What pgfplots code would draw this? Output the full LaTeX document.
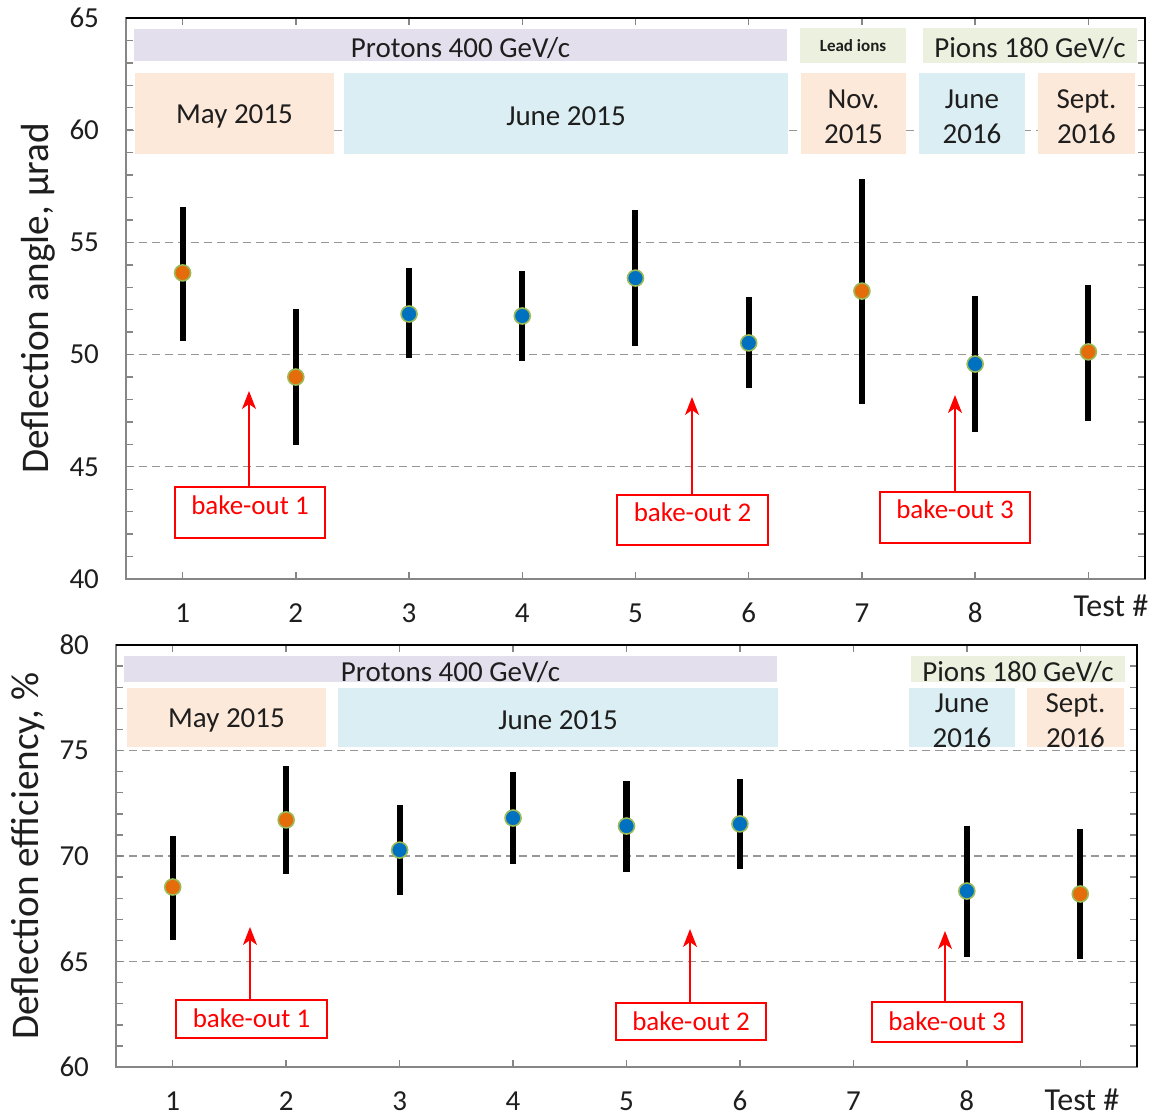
\documentclass[border=0pt]{standalone}
\usepackage{fontspec}
\setmainfont{Carlito}
\usepackage{pgfplots}
\pgfplotsset{compat=1.18}
\usetikzlibrary{arrows.meta}
\definecolor{lav}{RGB}{228,223,236}
\definecolor{grn}{RGB}{235,241,222}
\definecolor{pch}{RGB}{253,233,217}
\definecolor{lbl}{RGB}{218,238,243}
\definecolor{orng}{RGB}{228,108,10}
\definecolor{blu}{RGB}{0,112,192}
\definecolor{ol}{RGB}{155,187,89}
\definecolor{gridc}{RGB}{150,150,150}
\definecolor{axc}{RGB}{134,134,134}
\definecolor{txt}{RGB}{30,30,30}

\pgfplotsset{
 common/.style={scale only axis, xmin=0.5, xmax=9.5, xtick={1,...,9},
  xticklabels={1,2,3,4,5,6,7,8,{}},
  tick align=inside, major tick length=3.5pt, minor tick length=3.5pt,
  tick style={axc, line width=0.7pt}, axis line style={axc, line width=0.8pt},
  ymajorgrids, grid style={gridc, dash pattern=on 4pt off 2.5pt, line width=0.6pt},
  minor y tick num=4,
  ticklabel style={font=\fontsize{14.5}{17}\selectfont, text=txt},
  /pgf/number format/assume math mode=true,
  xticklabel style={anchor=center, yshift=-17pt},
  yticklabel style={anchor=east, xshift=-10pt},
  every axis y label/.style={at={(rel axis cs:0,0.5)}, xshift=-44pt, rotate=90, anchor=center,
     font=\fontsize{19.6}{22}\selectfont, text=txt},
  clip=false,
 },
 ebar/.style={only marks, mark=none, error bars/.cd, y dir=both, y explicit, error mark=none,
   error bar style={line width=3pt, black}},
 omark/.style={only marks, mark=*, mark size=4pt, mark options={fill=orng, draw=ol, line width=0.8pt}},
 bmark/.style={only marks, mark=*, mark size=4pt, mark options={fill=blu, draw=ol, line width=0.8pt}},
}

\pgfplotstableread{
x y ep em
1 53.64 2.94 3.04
2 49.00 3.03 3.03
3 51.81 2.05 1.96
4 51.72 2.01 2.00
5 53.41 3.03 3.03
6 50.52 2.05 2.01
7 52.83 5.00 5.03
8 49.58 3.03 3.03
9 50.12 2.98 3.08
}\topdata
\pgfplotstableread{
x y
1 53.64
2 49.00
7 52.83
9 50.12
}\topor
\pgfplotstableread{
x y
3 51.81
4 51.72
5 53.41
6 50.52
8 49.58
}\topbl
\pgfplotstableread{
x y ep em
1 68.53 2.42 2.51
2 71.71 2.56 2.56
3 70.28 2.14 2.13
4 71.80 2.18 2.18
5 71.42 2.13 2.18
6 71.52 2.13 2.14
8 68.34 3.08 3.13
9 68.20 3.08 3.08
}\botdata
\pgfplotstableread{
x y
1 68.53
2 71.71
9 68.20
}\botor
\pgfplotstableread{
x y
3 70.28
4 71.80
5 71.42
6 71.52
8 68.34
}\botbl

\newcommand{\bx}[6]{\fill[#5] (#1,#2) rectangle (#3,#4);
  \node[align=center, text=txt, font=\fontsize{14.5}{17.5}\selectfont, yshift=-1.5pt] at ({(#1+#3)/2},{(#2+#4)/2}) {#6};}

\begin{document}
\begin{tikzpicture}
\path[use as bounding box] (0,0) rectangle (578.5pt,-559pt);

\begin{axis}[common, at={(63pt,-9pt)}, anchor=north west, width=509.5pt, height=280.5pt,
  ymin=40, ymax=65, ytick={40,45,...,65}, ylabel={Deflection angle, μrad}]
\addplot[ebar] table[x=x, y=y, y error plus=ep, y error minus=em] {\topdata};
\addplot[omark] table[x=x, y=y] {\topor};
\addplot[bmark] table[x=x, y=y] {\topbl};
\draw[black, line width=0.9pt] (rel axis cs:0,1) -- (rel axis cs:1,1) -- (rel axis cs:1,0);
\end{axis}

\begin{axis}[common, at={(58pt,-322.5pt)}, anchor=north west, width=510.5pt, height=211pt,
  ymin=60, ymax=80, ytick={60,65,...,80}, ylabel={Deflection efficiency, \%}]
\addplot[ebar] table[x=x, y=y, y error plus=ep, y error minus=em] {\botdata};
\addplot[omark] table[x=x, y=y] {\botor};
\addplot[bmark] table[x=x, y=y] {\botbl};
\draw[black, line width=0.9pt] (rel axis cs:0,1) -- (rel axis cs:1,1) -- (rel axis cs:1,0);
\end{axis}

\begin{scope}[x=0.5pt, y=-0.5pt]
% top chart boxes
\bx{134}{29}{787}{61}{lav}{Protons 400 GeV/c}
\fill[grn] (800,28) rectangle (906,63);
\node[text=txt, font=\fontsize{8.5}{10}\selectfont\bfseries] at (853,46) {Lead ions};
\bx{923}{28}{1137}{63}{grn}{Pions 180 GeV/c}
\bx{135}{73}{334}{154}{pch}{May 2015}
\bx{344}{73}{788}{154}{lbl}{June 2015}
\bx{801}{73}{906}{154}{pch}{Nov.\\2015}
\bx{919}{73}{1025}{154}{lbl}{June\\2016}
\bx{1038}{73}{1135}{154}{pch}{Sept.\\2016}
% bottom chart boxes
\bx{124}{656}{777}{682}{lav}{Protons 400 GeV/c}
\bx{911}{656}{1125}{682}{grn}{Pions 180 GeV/c}
\bx{127}{688}{326}{747}{pch}{May 2015}
\bx{338}{688}{778}{747}{lbl}{June 2015}
\bx{909}{688}{1015}{747}{lbl}{June\\2016}
\bx{1027}{688}{1124}{747}{pch}{Sept.\\2016}
% arrows and bake-out boxes
\foreach \ax/\ya/\yb/\bl/\br/\bb/\yt/\n in {249/487/391/175/325/538/505/1, 692/495/397/617/768/545/512/2, 955/492/395/880/1030/543/509/3,
  250/1000/927/176/327/1038/1018/1, 690/1003/929/616/766/1040/1021/2, 945/1002/931/872/1022/1042/1021/3}{
  \draw[red, line width=0.75pt, -{Stealth[length=9pt,width=7pt,inset=2.5pt]}] (\ax,\ya) -- (\ax,\yb);
  \draw[red, line width=0.75pt] (\bl,\ya) rectangle (\br,\bb);
  \node[text=red, font=\fontsize{13.5}{16}\selectfont] at ({(\bl+\br)/2},\yt) {bake-out \n};
}
% Test # labels
\node[text=txt, font=\fontsize{16}{19}\selectfont] at (1111,606) {Test \#};
\node[text=txt, font=\fontsize{16}{19}\selectfont] at (1082,1100) {Test \#};
\end{scope}
\end{tikzpicture}
\end{document}
